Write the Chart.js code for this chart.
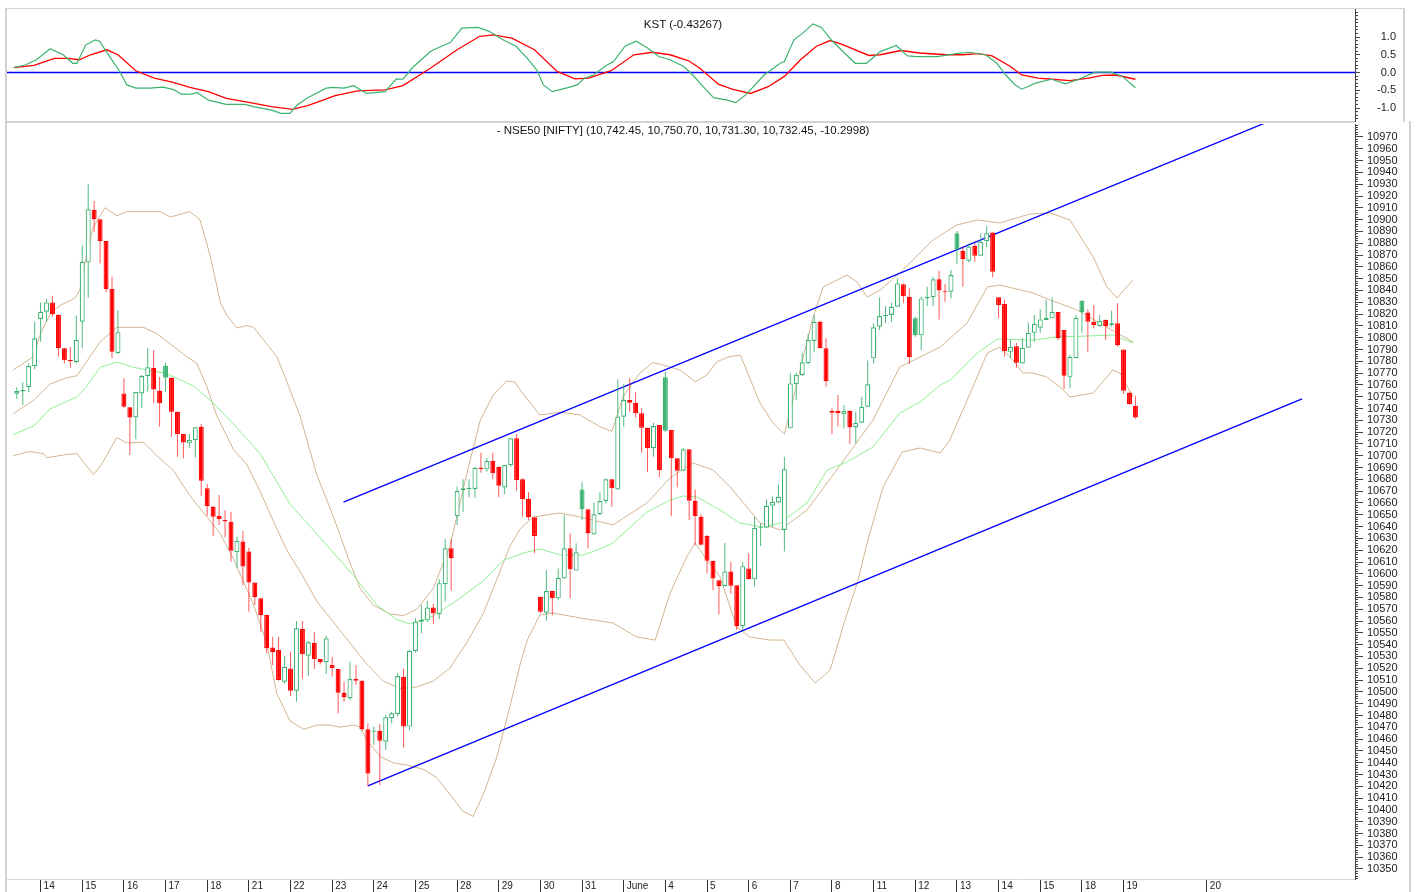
<!DOCTYPE html>
<html>
<head>
<meta charset="utf-8">
<title>NSE50 hourly with KST</title>
<script src="https://cdn.jsdelivr.net/npm/chart.js@4.4.1/dist/chart.umd.min.js"></script>
<style>
  html, body { margin: 0; padding: 0; background: #fff; }
  #wrap { position: relative; width: 1416px; height: 892px; overflow: hidden; font-family: "Liberation Sans", Arial, sans-serif; }
  canvas { position: absolute; left: 0; }
  #kstChart { top: 0; }
  #priceChart { top: 122px; }
  .rule { position: absolute; background: #d2d2d2; }
  .caption { position: absolute; font-size: 11.5px; line-height: 12px; color: #111; white-space: nowrap; transform: translateX(-50%); }
</style>
</head>
<body>
<div id="wrap">
  <canvas id="kstChart" width="1416" height="122"></canvas>
  <canvas id="priceChart" width="1416" height="770"></canvas>
  <div class="rule" style="left:5px;top:8px;width:2px;height:884px"></div>
  <div class="rule" style="left:5px;top:8px;width:1400px;height:1px"></div>
  <div class="rule" style="left:1403px;top:8px;width:2px;height:114px"></div>
  <div class="rule" style="left:5px;top:121px;width:1350px;height:2px"></div>
  <div class="rule" style="left:1409px;top:121px;width:2px;height:771px"></div>
  <div class="caption" style="left:683px;top:18px">KST (-0.43267)</div>
  <div class="caption" style="left:683px;top:124px">- NSE50 [NIFTY] (10,742.45, 10,750.70, 10,731.30, 10,732.45, -10.2998)</div>
</div>
<script>
// hourly bars, 7 per session; index 0 = last four bars of 11 May
const dayTicks  = [4, 11, 18, 25, 32, 39, 46, 53, 60, 67, 74, 81, 88, 95, 102, 109, 116, 123, 130, 137, 144, 151, 158, 165, 172, 179, 186, 200];
const dayLabels = ['14', '15', '16', '17', '18', '21', '22', '23', '24', '25', '28', '29', '30', '31', 'June', '4', '5', '6', '7', '8', '11', '12', '13', '14', '15', '18', '19', '20'];

const candleOpen = [
  10752.5, 10754.4, 10758.2, 10776.0, 10815.8, 10822.0, 10829.9, 10819.2, 10791.0, 10781.3,
  10779.4, 10813.5, 10863.8, 10908.1, 10900.3, 10881.9, 10841.2, 10787.0, 10752.8, 10741.0,
  10732.5, 10752.8, 10767.5, 10774.5, 10755.1, 10776.3, 10766.1, 10737.3, 10718.4, 10710.5,
  10713.3, 10724.6, 10672.4, 10656.8, 10649.0, 10645.6, 10644.2, 10618.4, 10627.4, 10618.9,
  10592.6, 10579.3, 10565.1, 10537.5, 10535.5, 10508.6, 10519.9, 10501.0, 10553.2, 10530.6,
  10541.4, 10527.9, 10525.1, 10522.8, 10519.4, 10499.3, 10494.6, 10510.9, 10509.5, 10468.3,
  10466.3, 10467.1, 10457.8, 10477.6, 10481.1, 10512.9, 10470.6, 10534.7, 10559.5, 10560.6,
  10571.5, 10565.8, 10591.2, 10621.7, 10648.9, 10671.0, 10671.8, 10671.8, 10689.9, 10688.5,
  10695.5, 10690.7, 10673.2, 10692.1, 10714.8, 10680.0, 10663.3, 10647.9, 10580.6, 10567.0,
  10585.4, 10579.2, 10596.1, 10621.6, 10602.7, 10671.5, 10654.6, 10633.4, 10650.4, 10661.7,
  10680.0, 10671.5, 10733.1, 10747.2, 10744.9, 10735.9, 10723.7, 10706.3, 10726.0, 10766.4,
  10721.8, 10697.8, 10687.3, 10705.5, 10661.9, 10648.4, 10632.0, 10611.1, 10594.6, 10589.5,
  10602.0, 10590.3, 10555.6, 10604.6, 10595.3, 10639.0, 10639.0, 10657.6, 10660.5, 10637.2,
  10723.2, 10760.5, 10768.4, 10778.3, 10797.2, 10813.5, 10791.0, 10737.9, 10737.9, 10735.3,
  10738.1, 10724.1, 10728.0, 10741.5, 10782.5, 10809.3, 10818.3, 10819.2, 10826.2, 10845.2,
  10834.7, 10816.5, 10802.0, 10833.3, 10834.2, 10849.4, 10839.8, 10838.9, 10888.4, 10873.5,
  10865.2, 10877.7, 10869.5, 10881.9, 10889.0, 10834.2, 10828.5, 10788.0, 10792.7, 10778.1,
  10791.4, 10804.1, 10808.4, 10815.0, 10816.4, 10821.7, 10806.5, 10766.4, 10782.6, 10831.1,
  10821.4, 10813.5, 10809.9, 10815.0, 10810.7, 10812.2, 10790.1, 10753.4, 10742.45
];
const candleHigh = [
  10758.0, 10762.2, 10778.3, 10813.5, 10829.9, 10832.7, 10835.5, 10819.8, 10791.5, 10792.1,
  10818.9, 10877.9, 10929.9, 10915.8, 10900.3, 10881.9, 10851.6, 10823.4, 10765.6, 10741.0,
  10753.9, 10768.4, 10791.0, 10789.5, 10766.7, 10778.7, 10766.4, 10737.3, 10718.4, 10718.4,
  10724.1, 10726.9, 10676.1, 10657.4, 10666.7, 10654.0, 10652.6, 10631.6, 10636.3, 10621.8,
  10592.6, 10579.3, 10565.1, 10546.7, 10546.7, 10530.3, 10534.1, 10560.0, 10560.0, 10543.3,
  10550.4, 10527.9, 10547.6, 10529.8, 10519.4, 10508.6, 10525.6, 10522.8, 10510.1, 10473.4,
  10470.5, 10472.8, 10480.4, 10483.2, 10516.3, 10519.9, 10535.5, 10562.4, 10573.6, 10577.0,
  10574.5, 10595.4, 10629.3, 10629.3, 10673.8, 10680.0, 10680.0, 10690.7, 10702.6, 10697.8,
  10702.6, 10690.7, 10692.1, 10714.8, 10718.4, 10680.9, 10669.0, 10647.9, 10580.6, 10603.2,
  10585.4, 10604.6, 10649.8, 10634.3, 10625.9, 10677.5, 10654.6, 10660.2, 10669.0, 10680.9,
  10680.0, 10764.7, 10760.8, 10765.6, 10753.7, 10740.2, 10723.7, 10728.0, 10726.0, 10771.2,
  10721.8, 10697.8, 10706.3, 10705.5, 10671.5, 10650.6, 10632.9, 10611.1, 10594.6, 10626.1,
  10610.3, 10590.3, 10610.3, 10617.4, 10648.4, 10642.8, 10663.0, 10665.3, 10675.7, 10699.2,
  10769.8, 10770.3, 10787.3, 10803.1, 10819.2, 10814.4, 10799.5, 10740.2, 10751.4, 10743.0,
  10738.1, 10737.3, 10750.0, 10780.7, 10812.2, 10834.2, 10826.8, 10829.6, 10850.3, 10846.0,
  10841.8, 10817.8, 10834.7, 10843.2, 10851.6, 10856.7, 10845.5, 10857.3, 10890.4, 10877.1,
  10879.9, 10879.9, 10888.5, 10894.6, 10889.0, 10834.2, 10831.9, 10798.4, 10795.6, 10799.5,
  10812.6, 10819.2, 10824.0, 10831.9, 10834.2, 10821.7, 10806.5, 10785.3, 10819.2, 10831.9,
  10824.0, 10827.7, 10819.2, 10815.6, 10822.9, 10829.1, 10790.1, 10754.2, 10750.70
];
const candleLow = [
  10748.0, 10743.0, 10753.7, 10773.2, 10796.6, 10813.5, 10818.0, 10784.0, 10778.3, 10774.5,
  10778.3, 10791.0, 10833.8, 10889.8, 10863.0, 10838.4, 10782.6, 10786.1, 10740.7, 10700.6,
  10713.9, 10740.2, 10754.2, 10744.4, 10724.6, 10754.2, 10716.1, 10699.2, 10697.8, 10706.3,
  10698.6, 10665.9, 10649.0, 10632.1, 10641.4, 10631.0, 10610.3, 10604.9, 10590.5, 10567.9,
  10573.6, 10551.0, 10532.7, 10522.7, 10509.5, 10507.3, 10496.5, 10491.7, 10511.2, 10513.7,
  10519.4, 10523.1, 10515.2, 10512.9, 10481.9, 10491.7, 10493.1, 10505.9, 10466.9, 10420.3,
  10455.0, 10421.1, 10450.8, 10473.4, 10479.1, 10452.8, 10467.7, 10533.3, 10549.7, 10559.2,
  10557.5, 10561.7, 10576.5, 10585.7, 10641.3, 10652.6, 10664.8, 10664.5, 10685.6, 10686.5,
  10680.0, 10664.8, 10667.6, 10690.7, 10670.4, 10648.4, 10645.6, 10617.4, 10566.5, 10560.3,
  10565.0, 10577.8, 10596.1, 10579.4, 10602.7, 10645.6, 10621.6, 10633.4, 10649.8, 10659.6,
  10656.9, 10671.5, 10724.6, 10737.3, 10732.5, 10702.6, 10686.5, 10699.2, 10681.7, 10720.3,
  10649.0, 10673.3, 10687.3, 10645.6, 10624.1, 10624.1, 10600.5, 10586.2, 10565.6, 10589.5,
  10583.1, 10552.4, 10552.4, 10595.5, 10589.0, 10623.6, 10638.5, 10639.9, 10659.7, 10618.8,
  10723.2, 10747.2, 10767.5, 10777.5, 10788.1, 10791.0, 10758.5, 10718.4, 10724.6, 10723.2,
  10709.9, 10710.5, 10728.0, 10741.5, 10778.3, 10806.5, 10812.2, 10813.5, 10826.2, 10829.1,
  10777.7, 10800.9, 10789.6, 10826.8, 10826.8, 10815.5, 10830.5, 10833.3, 10862.2, 10843.2,
  10863.8, 10864.3, 10869.5, 10876.5, 10851.1, 10816.4, 10783.9, 10782.6, 10774.5, 10778.1,
  10791.4, 10796.6, 10804.1, 10815.0, 10816.4, 10798.0, 10756.3, 10757.1, 10782.6, 10804.1,
  10788.1, 10807.9, 10809.3, 10798.0, 10809.3, 10792.3, 10752.3, 10743.0, 10731.30
];
const candleClose = [
  10754.8, 10755.7, 10776.0, 10799.5, 10822.0, 10829.9, 10819.8, 10791.0, 10780.8, 10780.2,
  10798.3, 10864.3, 10908.7, 10900.3, 10881.9, 10841.2, 10788.1, 10804.7, 10741.5, 10732.5,
  10753.9, 10767.5, 10774.9, 10756.2, 10744.4, 10766.1, 10737.3, 10718.4, 10711.3, 10713.3,
  10724.1, 10678.8, 10657.4, 10648.4, 10646.5, 10644.5, 10619.6, 10628.0, 10606.1, 10592.6,
  10580.3, 10565.1, 10536.9, 10533.6, 10510.1, 10521.3, 10501.0, 10553.8, 10531.8, 10542.0,
  10527.9, 10525.1, 10545.4, 10520.0, 10499.3, 10495.4, 10510.9, 10509.5, 10468.3, 10430.9,
  10467.1, 10458.7, 10478.5, 10481.9, 10513.5, 10470.6, 10534.7, 10559.5, 10560.9, 10571.5,
  10566.3, 10592.1, 10621.7, 10613.2, 10670.1, 10672.4, 10672.9, 10689.9, 10688.8, 10695.5,
  10685.1, 10674.6, 10692.1, 10714.8, 10679.5, 10663.3, 10647.9, 10632.0, 10567.9, 10585.4,
  10579.2, 10596.7, 10621.6, 10603.8, 10618.3, 10654.6, 10634.3, 10650.4, 10661.7, 10680.0,
  10672.4, 10733.1, 10747.2, 10744.9, 10735.9, 10723.7, 10706.3, 10725.2, 10687.9, 10721.2,
  10697.8, 10687.3, 10705.5, 10661.9, 10648.9, 10624.6, 10611.1, 10596.1, 10589.5, 10602.0,
  10589.8, 10555.6, 10606.5, 10595.5, 10639.0, 10639.9, 10657.6, 10661.0, 10665.3, 10688.6,
  10761.3, 10768.4, 10779.2, 10798.0, 10813.5, 10791.0, 10763.3, 10736.4, 10736.0, 10737.9,
  10724.1, 10728.0, 10741.5, 10760.5, 10808.8, 10818.3, 10819.2, 10826.2, 10846.0, 10835.0,
  10783.4, 10802.3, 10833.3, 10834.7, 10849.4, 10839.9, 10838.9, 10853.1, 10875.0, 10866.5,
  10877.1, 10869.5, 10881.3, 10888.5, 10855.9, 10827.7, 10788.7, 10792.2, 10778.7, 10791.4,
  10804.1, 10811.8, 10815.5, 10816.9, 10821.7, 10799.5, 10767.8, 10783.9, 10816.9, 10821.5,
  10813.5, 10810.7, 10814.1, 10809.9, 10812.2, 10793.7, 10755.1, 10743.8, 10732.45
];

// Bollinger band: [bar index, price]
const bandUpper = [
  [-0.6, 10772.6], [2.7, 10783.6], [4.1, 10804.8], [5.8, 10821.8], [7.4, 10827.7], [9.8, 10833.6],
  [10.6, 10840.4], [11.5, 10864.3], [12.8, 10892.9], [14.8, 10910.1], [16.8, 10903.3], [18.5, 10906.8],
  [24.1, 10906.8], [25.8, 10902.2], [29.1, 10906.8], [30.8, 10899.7], [32.5, 10869.4], [34.2, 10830.2],
  [35.3, 10818.8], [37.0, 10808.2], [38.6, 10810.3], [39.8, 10808.8], [42.0, 10794.7], [43.7, 10783.9],
  [45.4, 10762.5], [47.6, 10733.9], [50.4, 10684.1], [53.2, 10648.4], [56.0, 10609.2], [57.7, 10587.7],
  [59.9, 10573.6], [62.7, 10566.0], [65.0, 10564.6], [67.2, 10569.9], [70.0, 10587.7], [72.8, 10623.6],
  [75.6, 10684.1], [77.9, 10730.3], [80.1, 10751.7], [82.3, 10763.3], [83.7, 10762.5], [84.6, 10755.7],
  [87.9, 10734.5], [91.3, 10737.0], [94.7, 10734.5], [98.0, 10724.6], [100.0, 10720.4], [101.9, 10750.0],
  [104.7, 10770.1], [106.9, 10778.9], [108.6, 10776.9], [111.5, 10772.6], [114.0, 10762.7], [116.0, 10768.4],
  [117.6, 10779.4], [119.5, 10783.6], [121.6, 10785.3], [124.9, 10744.7], [127.1, 10727.7], [129.0, 10718.4],
  [130.0, 10738.7], [133.7, 10815.0], [135.5, 10842.9], [139.5, 10853.1], [141.2, 10847.2], [142.9, 10834.4],
  [145.1, 10840.4], [148.4, 10854.8], [154.0, 10882.8], [158.0, 10895.5], [161.4, 10899.7], [165.2, 10897.2],
  [170.3, 10904.8], [173.7, 10905.6], [177.0, 10899.7], [180.9, 10868.4], [183.2, 10843.0], [184.9, 10833.6],
  [187.6, 10848.9]
];
const bandMiddle = [
  [-0.6, 10735.7], [2.7, 10746.4], [5.6, 10760.8], [8.4, 10766.1], [10.1, 10767.8], [11.8, 10780.3],
  [14.0, 10796.4], [16.8, 10808.8], [21.3, 10808.8], [23.5, 10803.5], [25.8, 10794.7], [28.6, 10783.8],
  [30.2, 10778.6], [31.9, 10759.1], [33.6, 10733.9], [36.4, 10705.4], [38.6, 10693.0], [40.9, 10669.7],
  [43.1, 10644.8], [45.4, 10619.8], [47.6, 10602.1], [50.4, 10577.0], [53.2, 10559.2], [56.0, 10541.4],
  [58.8, 10523.6], [61.6, 10509.2], [64.4, 10502.9], [67.2, 10504.1], [70.0, 10509.2], [72.8, 10520.2],
  [75.6, 10541.4], [78.4, 10566.4], [81.2, 10602.1], [82.9, 10623.6], [84.6, 10638.0], [86.8, 10648.1],
  [91.3, 10651.5], [94.7, 10648.1], [100.2, 10641.4], [105.9, 10660.0], [109.8, 10681.2], [113.6, 10693.9],
  [117.0, 10688.0], [119.9, 10673.5], [122.7, 10656.6], [124.9, 10643.0], [128.3, 10637.1], [132.8, 10654.0],
  [138.4, 10692.1], [143.9, 10730.3], [148.4, 10775.2], [155.2, 10792.1], [159.7, 10812.4], [163.1, 10842.9],
  [165.2, 10844.6], [170.8, 10837.9], [173.7, 10831.9], [178.2, 10823.5], [182.0, 10812.4], [184.9, 10804.0],
  [187.6, 10796.4]
];
const bandLower = [
  [-0.6, 10700.1], [2.2, 10703.6], [4.5, 10701.8], [5.0, 10698.3], [8.4, 10701.1], [10.1, 10701.8],
  [11.2, 10694.7], [12.9, 10684.0], [14.5, 10694.7], [16.8, 10715.4], [18.5, 10710.8], [21.3, 10711.5],
  [23.5, 10700.1], [26.3, 10687.6], [29.1, 10666.2], [31.9, 10648.4], [34.2, 10634.0], [36.4, 10612.7],
  [39.8, 10573.6], [42.0, 10541.4], [43.7, 10498.6], [45.9, 10475.5], [48.2, 10468.3], [50.4, 10471.9],
  [52.6, 10471.9], [54.3, 10470.1], [56.6, 10471.9], [57.7, 10470.2], [58.8, 10459.4], [61.1, 10445.2],
  [63.3, 10439.8], [65.5, 10438.1], [68.3, 10434.4], [70.6, 10427.3], [72.8, 10413.1], [75.0, 10398.8],
  [76.7, 10394.6], [78.4, 10413.1], [80.7, 10445.2], [82.9, 10488.1], [84.6, 10523.6], [85.8, 10543.9],
  [87.9, 10565.1], [90.1, 10566.8], [94.7, 10562.6], [100.2, 10558.3], [104.2, 10546.5], [107.3, 10543.9],
  [109.8, 10583.8], [112.6, 10614.3], [114.0, 10626.1], [116.0, 10611.7], [118.2, 10597.3], [121.0, 10554.9],
  [123.2, 10546.5], [126.6, 10543.9], [128.9, 10543.9], [131.6, 10522.8], [134.2, 10507.5], [136.7, 10518.5],
  [139.2, 10560.9], [141.4, 10594.8], [142.9, 10626.1], [145.6, 10673.6], [148.8, 10703.2], [151.8, 10706.6],
  [155.2, 10702.3], [156.8, 10713.3], [161.4, 10766.7], [163.1, 10787.0], [165.2, 10792.1], [167.4, 10781.1],
  [169.1, 10770.1], [170.8, 10770.1], [173.1, 10766.7], [175.3, 10758.2], [177.0, 10749.8], [180.9, 10753.1],
  [184.2, 10772.6], [185.4, 10770.1], [187.6, 10749.8]
];
const movingAvg = [
  [-0.6, 10717.9], [2.8, 10725.2], [5.6, 10739.6], [10.1, 10749.9], [11.8, 10759.1], [14.0, 10774.9],
  [16.8, 10779.3], [19.6, 10774.9], [25.2, 10769.6], [29.7, 10759.1], [33.0, 10744.7], [36.4, 10726.9],
  [40.9, 10701.8], [45.9, 10659.1], [51.0, 10630.5], [56.6, 10598.5], [60.5, 10573.6], [63.9, 10561.0],
  [66.1, 10557.5], [70.0, 10564.3], [74.5, 10579.5], [78.4, 10594.0], [81.8, 10611.7], [85.8, 10618.5],
  [88.0, 10621.0], [91.3, 10615.9], [95.2, 10615.9], [98.0, 10621.0], [100.2, 10626.1], [105.9, 10652.4],
  [109.8, 10662.5], [112.0, 10665.9], [114.3, 10665.1], [118.2, 10654.0], [121.5, 10643.0], [125.4, 10639.7],
  [128.3, 10643.0], [132.8, 10660.0], [136.2, 10687.9], [139.5, 10694.7], [143.9, 10707.4], [148.4, 10736.2],
  [151.8, 10745.5], [155.2, 10759.9], [156.9, 10764.2], [161.4, 10787.0], [164.8, 10798.9], [170.8, 10798.0],
  [174.8, 10800.6], [179.9, 10801.4], [184.2, 10802.3], [187.6, 10795.5]
];
// trend channel drawn on the chart
const channelUpper = [[54.9, 10660.8], [209.8, 10981.9]];
const channelLower = [[59.0, 10420.3], [216.0, 10748.1]];

// KST and its signal line: [bar index, value]
const kstLine = [
  [-0.5, 0.14], [1.4, 0.21], [3.3, 0.36], [5.6, 0.67], [7.8, 0.50], [9.4, 0.26], [10.1, 0.26], [11.6, 0.78],
  [13.2, 0.92], [13.9, 0.88], [15.8, 0.40], [17.3, 0.03], [18.5, -0.35], [20.0, -0.44], [22.3, -0.44],
  [24.6, -0.41], [26.5, -0.49], [27.6, -0.61], [29.5, -0.61], [30.3, -0.56], [32.2, -0.78], [35.2, -0.90],
  [38.3, -0.90], [39.8, -0.96], [42.8, -1.06], [44.4, -1.15], [45.9, -1.15], [47.0, -0.93], [48.9, -0.71],
  [52.0, -0.44], [53.1, -0.42], [55.0, -0.44], [56.6, -0.37], [58.8, -0.59], [61.9, -0.54], [63.8, -0.18],
  [64.9, -0.19], [66.4, 0.12], [69.5, 0.59], [71.0, 0.71], [72.9, 0.85], [74.8, 1.25], [77.5, 1.27],
  [79.4, 1.16], [81.7, 0.92], [83.9, 0.74], [85.8, 0.40], [87.4, 0.07], [88.5, -0.35], [90.0, -0.54],
  [92.3, -0.44], [94.2, -0.35], [95.4, -0.16], [96.9, -0.07], [99.2, 0.21], [100.3, 0.31], [102.2, 0.74],
  [104.1, 0.88], [106.0, 0.69], [107.9, 0.45], [109.8, 0.36], [112.1, 0.17], [113.6, -0.07], [114.8, -0.30],
  [117.1, -0.71], [119.4, -0.78], [120.8, -0.85], [122.5, -0.63], [125.6, -0.07], [128.3, 0.26], [129.0, 0.31],
  [130.6, 0.92], [132.1, 1.11], [133.8, 1.37], [135.2, 1.27], [137.1, 0.88], [139.4, 0.50], [140.9, 0.26],
  [142.8, 0.26], [145.1, 0.59], [147.8, 0.76], [149.7, 0.47], [151.3, 0.45], [154.7, 0.45], [157.8, 0.53],
  [160.1, 0.57], [162.8, 0.50], [164.7, 0.26], [166.2, -0.07], [167.8, -0.35], [168.9, -0.47], [171.2, -0.30],
  [173.9, -0.19], [176.2, -0.32], [178.5, -0.19], [181.2, 0.01], [183.9, 0.01], [185.8, -0.11], [188.0, -0.43]
];
const kstSignal = [
  [-0.5, 0.14], [2.9, 0.20], [6.3, 0.40], [8.6, 0.40], [10.5, 0.36], [12.4, 0.50], [15.1, 0.64], [17.0, 0.50],
  [20.0, 0.05], [23.1, -0.16], [26.1, -0.27], [29.1, -0.42], [32.2, -0.54], [35.2, -0.73], [39.0, -0.84],
  [42.8, -0.96], [46.3, -1.04], [48.9, -0.93], [53.5, -0.65], [57.3, -0.52], [61.9, -0.49], [64.9, -0.37],
  [69.5, 0.12], [74.0, 0.64], [77.8, 1.02], [80.1, 1.06], [83.2, 0.97], [87.0, 0.64], [90.8, 0.03],
  [93.8, -0.18], [96.1, -0.16], [99.9, 0.05], [103.7, 0.50], [106.8, 0.57], [109.8, 0.50], [112.9, 0.33],
  [114.8, 0.12], [117.9, -0.33], [120.2, -0.47], [123.3, -0.59], [126.3, -0.40], [129.0, -0.11], [131.7, 0.36],
  [134.4, 0.74], [136.7, 0.90], [138.6, 0.80], [143.2, 0.48], [145.1, 0.50], [148.6, 0.62], [151.7, 0.55],
  [156.3, 0.50], [159.0, 0.50], [161.6, 0.53], [163.9, 0.47], [167.0, 0.17], [168.9, -0.07], [171.6, -0.16],
  [173.9, -0.19], [177.0, -0.23], [180.1, -0.16], [182.4, -0.08], [184.7, -0.07], [188.0, -0.19]
];

const kstTicks = [-1, -0.5, 0, 0.5, 1];
const priceTickFirst = 10350, priceTickLast = 10970;

const X_MIN = -1.815, X_MAX = 224.9;
const PRICE_MIN = 10341.5, PRICE_MAX = 10981.0;
const KST_MIN = -1.366, KST_MAX = 1.789;

const GREEN = '#3cb371', RED = '#ff0000';
const FONT = 'Liberation Sans, Arial, sans-serif';
Chart.defaults.font.family = FONT;

const pts = (pairs) => pairs.map(([x, y]) => ({ x, y }));
const span = (a, b, step) => { const out = []; for (let v = a; v <= b + 1e-9; v += step) out.push(+v.toFixed(4)); return out; };
const setTicks = (values) => (scale) => { scale.ticks = values.map(value => ({ value })); };
const fixWidth = (w) => (scale) => { scale.width = w; scale.paddingTop = 0; scale.paddingBottom = 0; };

const up = candleClose.map((c, i) => c >= (i ? candleClose[i - 1] : candleOpen[i]));
const hollow = candleClose.map((c, i) => c >= candleOpen[i]);
const bars = candleClose.map((_, i) => i);

const lineSet = (data, color, width, order) => ({
  type: 'line', data: pts(data), borderColor: color, borderWidth: width,
  pointRadius: 0, tension: 0, fill: false, order
});

new Chart(document.getElementById('priceChart'), {
  type: 'bar',
  data: {
    datasets: [
      {
        data: bars.map(i => ({ x: i, y: [candleOpen[i], candleClose[i]] })),
        backgroundColor: bars.map(i => hollow[i] ? '#ffffff' : (up[i] ? GREEN : RED)),
        borderColor: bars.map(i => up[i] ? GREEN : RED),
        borderWidth: 1.2, borderSkipped: false, barThickness: 5, minBarLength: 1,
        inflateAmount: 0, grouped: false, order: 0
      },
      {
        data: bars.map(i => ({ x: i, y: [candleLow[i], candleHigh[i]] })),
        backgroundColor: bars.map(i => up[i] ? 'rgba(60,179,113,0.9)' : 'rgba(255,0,0,0.65)'),
        borderWidth: 0, barThickness: 1, inflateAmount: 0, grouped: false, order: 1
      },
      lineSet(channelUpper, '#0000ff', 1.3, 2),
      lineSet(channelLower, '#0000ff', 1.3, 2),
      lineSet(movingAvg, '#90ee90', 1, 3),
      lineSet(bandUpper, '#d4b48f', 1, 3),
      lineSet(bandMiddle, '#d4b48f', 1, 3),
      lineSet(bandLower, '#d4b48f', 1, 3)
    ]
  },
  options: {
    responsive: false, animation: false, events: [],
    layout: { padding: { left: 6, right: 11, top: 2, bottom: 0 } },
    plugins: { legend: { display: false }, tooltip: { enabled: false } },
    scales: {
      x: {
        type: 'linear', min: X_MIN, max: X_MAX, offset: false,
        afterBuildTicks: setTicks(dayTicks),
        afterFit: (s) => { s.height = 13; s.paddingLeft = 0; s.paddingRight = 0; },
        ticks: {
          autoSkip: false, maxRotation: 0, align: 'start', labelOffset: 3, padding: -12,
          color: '#222', font: { size: 10 }, callback: (v, i) => dayLabels[i]
        },
        grid: { drawOnChartArea: false, offset: false, tickLength: 13, tickColor: '#333' },
        border: { display: true, color: '#d8d8d8' }
      },
      y: {
        type: 'linear', position: 'right', weight: 1, min: PRICE_MIN, max: PRICE_MAX,
        afterBuildTicks: setTicks(span(priceTickFirst, priceTickLast, 10)),
        afterFit: fixWidth(50),
        ticks: { autoSkip: false, padding: 4, color: '#222', font: { size: 11 }, callback: v => String(v) },
        grid: { drawOnChartArea: false, tickLength: 8, tickColor: '#444' },
        border: { display: true, color: '#444' }
      },
      yMinor: {
        type: 'linear', position: 'right', weight: 0, display: true, min: PRICE_MIN, max: PRICE_MAX,
        afterBuildTicks: setTicks(span(10342, 10980, 2)),
        afterFit: fixWidth(0),
        ticks: { display: false },
        grid: { drawOnChartArea: false, tickLength: 3, tickColor: '#444' },
        border: { display: false }
      }
    }
  }
});

new Chart(document.getElementById('kstChart'), {
  type: 'line',
  data: {
    datasets: [
      lineSet([[X_MIN, 0], [X_MAX, 0]], '#0000ff', 1.5, 2),
      lineSet(kstSignal, RED, 1.3, 1),
      lineSet(kstLine, GREEN, 1.2, 0)
    ]
  },
  options: {
    responsive: false, animation: false, events: [],
    layout: { padding: { left: 6, right: 20, top: 9, bottom: 1 } },
    plugins: { legend: { display: false }, tooltip: { enabled: false } },
    scales: {
      x: { type: 'linear', min: X_MIN, max: X_MAX, display: false },
      y: {
        type: 'linear', position: 'right', weight: 1, min: KST_MIN, max: KST_MAX,
        afterBuildTicks: setTicks(kstTicks),
        afterFit: fixWidth(41),
        ticks: { autoSkip: false, padding: 12, crossAlign: 'far', color: '#222', font: { size: 11 }, callback: v => v.toFixed(1) },
        grid: { drawOnChartArea: false, tickLength: 5, tickColor: '#444' },
        border: { display: true, color: '#444' }
      },
      yMinor: {
        type: 'linear', position: 'right', weight: 0, display: true, min: KST_MIN, max: KST_MAX,
        afterBuildTicks: setTicks(span(-1.3, 1.7, 0.1)),
        afterFit: fixWidth(0),
        ticks: { display: false },
        grid: { drawOnChartArea: false, tickLength: 3, tickColor: '#444' },
        border: { display: false }
      }
    }
  }
});
</script>
</body>
</html>
